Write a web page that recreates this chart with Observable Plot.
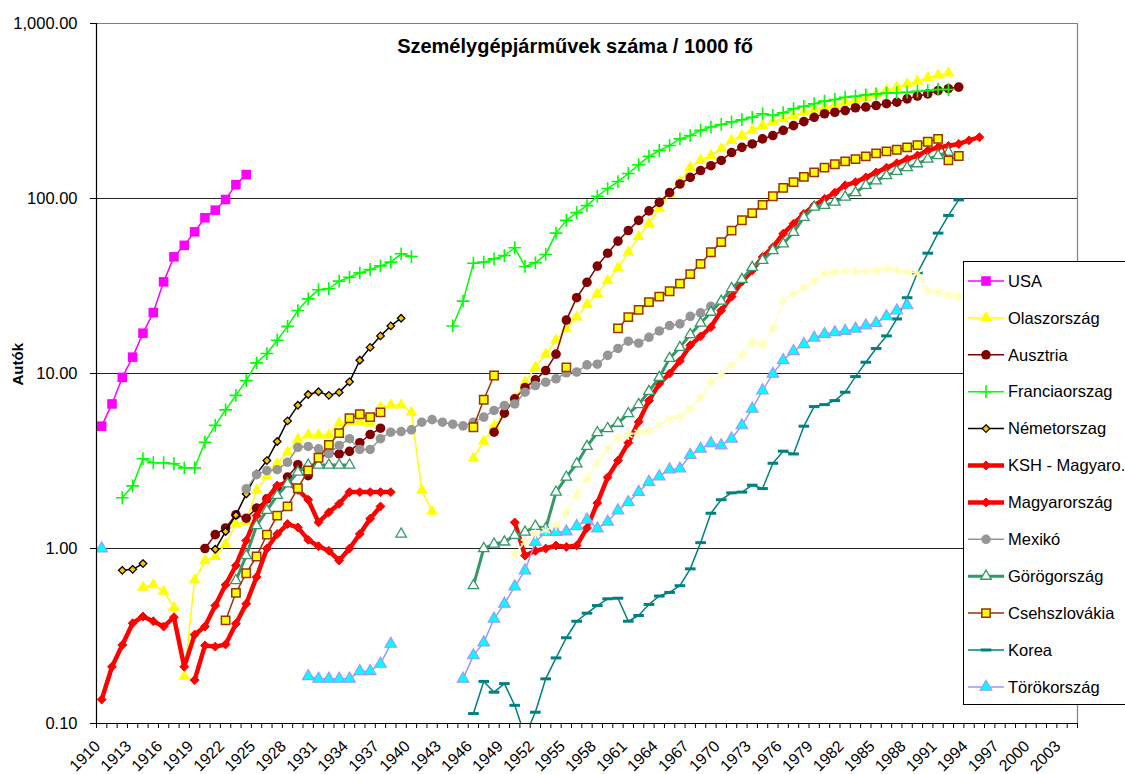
<!DOCTYPE html>
<html><head><meta charset="utf-8">
<script src="https://cdn.jsdelivr.net/npm/d3@7"></script>
<script src="https://cdn.jsdelivr.net/npm/@observablehq/plot@0.6"></script>
<style>
body{margin:0;background:#fff;}
#wrap{position:relative;width:1125px;height:774px;overflow:hidden;font-family:"Liberation Sans",Arial,sans-serif;}
#wrap svg{position:absolute;left:0;top:0;}
</style></head><body><div id="wrap"></div>
<script>
// ---------- data (values per year, starting at the given year; null = no data) ----------
const chartTitle = "Személygépjárművek száma / 1000 fő";
const yTitle = "Autók";
const yTicks = [0.1, 1, 10, 100, 1000];
const xLabelYears = ["1910","1913","1916","1919","1922","1925","1928","1931","1934","1937","1940","1943","1946","1949","1952","1955","1958","1961","1964","1967","1970","1973","1976","1979","1982","1985","1988","1991","1994","1997","2000","2003"];
const firstYear = 1910, lastYear = 2004;

const usaStart = 1910;
const usa = [5.0,6.7,9.5,12.4,17.0,22.3,33.4,46.4,54,64.5,77.6,85.8,98.7,120,137];

const italyStart = 1914;
const italy = [0.60,0.62,0.57,0.46,0.186,0.66,0.85,0.90,1.06,1.38,1.43,2.15,2.59,3.05,3.55,4.2,4.45,4.45,4.45,5.2,5.3,5.3,5.2,6.4,6.6,6.6,6.0,2.15,1.63,
  null,null,null,
  3.28,4.09,5.0,6.0,7.2,8.9,10.85,12.9,15.5,18.0,21.0,24.8,28.5,34,40,49.3,60.6,72,88,106,125,150,165,176,192,214,229,245,261,273,285,298,311,323,333,342,355,363,378,395,415,432,452,468,490,508,520];

const austriaStart = 1920;
const austria = [1.0,1.2,1.31,1.56,1.49,1.70,1.92,2.19,2.56,3.01,2.61,3.26,3.5,3.47,3.59,4.02,4.48,4.87,
  null,null,null,null,null,null,null,null,null,null,
  4.62,5.94,7.17,8.3,9.2,10.4,12.9,20.2,27.1,33.2,41.1,48.7,57.1,65.6,75,85,95,108,121,132,144.5,154,165,183,196,205,219,229,245,261,275,291,305,311,318,330,333,340,348,355,371,385,396,414,424,433];

const franceStart = 1912;
const france = [1.95,2.28,3.26,3.09,3.09,3.05,2.89,2.89,4.05,5.05,6.2,7.5,9.1,11.5,13.0,15.5,18.6,22.9,26.7,30.1,30.5,33.7,35.5,37.6,39.3,41.2,43.3,48.3,46.6,
  null,null,null,
  18.7,25.9,42.7,43.3,45.2,47.2,52.3,40.9,42.9,47.9,63.4,75,83,91,103,114,125,139,156,174,188,201,219,229,245,256,265,274,282,291,305,298,309,326,336,348,360,368,379,384,391,396,400,402,405,410,414,420,420];

const germanyStart = 1912;
const germany = [0.75,0.76,0.82,null,null,null,null,null,null,0.99,1.25,1.55,2.05,2.67,3.18,4.09,5.36,6.58,7.59,7.86,7.5,7.8,8.96,11.9,14.1,16.4,18.7,20.7];

const kshStart = 1919;
const ksh = [0.177,0.279,0.275,0.283,0.372,0.483,0.686,1.0,1.21,1.38,1.32,1.12,1.03,0.97,0.854,1.0,1.21,1.48,1.74];

const hungaryStart = 1910;
const hungary = [0.137,0.211,0.281,0.374,0.409,0.384,0.358,0.405,0.211,0.322,0.358,0.472,0.62,0.80,1.11,1.54,1.92,2.29,2.39,2.16,1.9,1.41,1.61,1.8,2.1,2.1,2.1,2.1,2.1,
  null,null,null,null,null,null,null,null,null,null,null,
  1.41,0.91,0.97,1.0,1.04,1.02,1.04,1.31,1.82,2.55,3.18,4.02,5.3,7.0,8.73,10.0,11.8,14.5,16.3,18.4,22.9,27.5,33.5,38.8,46.3,52.7,62.9,71.8,81.7,91.4,99.5,108,119,124,132,141,150,159,168,176,188,196,200,205,215,224];

const mexicoStart = 1924;
const mexico = [2.19,2.64,2.79,2.82,3.11,3.79,3.83,3.71,3.5,3.88,4.24,3.68,3.68,4.24,4.62,4.66,4.76,5.27,5.45,5.27,5.13,5.02,5.27,5.63,6.15,6.56,6.7,7.82,8.54,8.92,9.33,10.1,10.2,11.2,11.3,12.7,13.9,15.3,14.9,16.1,17.5,18.8,19.2,21.2,22.2,24.2];

const greeceStart = 1923;
const greece = [0.656,0.91,1.35,1.65,2.01,2.34,2.73,3.0,3.0,3.0,3.0,3.0,null,null,null,null,1.21,
  null,null,null,null,null,null,
  0.614,1.0,1.06,1.09,1.19,1.24,1.34,1.30,2.1,2.56,3.05,3.83,4.6,4.85,5.2,5.9,6.65,7.9,9.5,12.2,14.1,16.7,19.4,22.4,25.9,30.6,34.5,40.4,44.3,50.4,55,64.1,78.1,89.4,91.4,95.4,102,108,119,126,135,143,150,158,168,176,184];

const czechStart = 1922;
const czech = [0.388,0.558,0.722,0.90,1.2,1.54,1.74,2.21,2.79,3.3,3.91,4.56,5.55,5.85,5.63,6.0,
  null,null,null,null,null,null,null,null,
  4.93,7.08,9.74,null,null,null,null,null,null,10.85,null,null,null,null,
  18.1,21.0,23.1,25.6,27.5,29.5,32.6,37,42.3,49.3,56.3,65.6,75.1,82.5,92,103,115,124,133,141,150,157,163,168,174,181,186,190,196,202,211,219,165,175];

const koreaStart = 1946;
const korea = [0.114,0.174,0.151,0.169,0.127,0.085,0.116,0.18,0.237,0.309,0.384,0.427,0.472,0.516,0.52,0.384,0.414,0.479,0.535,0.561,0.613,0.765,1.08,1.59,1.9,2.08,2.1,2.3,2.2,3.07,3.6,3.47,5.0,6.47,6.64,7.0,7.82,9.6,11.6,13.9,16.4,20.5,27.1,37.5,48.7,63.4,80.0,98.2];

const turkeyStart = 1910;
const turkey = [1.0,null,null,null,null,null,null,null,null,null,null,null,null,null,null,null,null,null,null,null,
  0.186,0.18,0.18,0.18,0.18,0.199,0.199,0.219,0.285,
  null,null,null,null,null,null,
  0.18,0.245,0.29,0.397,0.483,0.606,0.749,1.09,1.24,1.24,1.25,1.34,1.46,1.3,1.42,1.65,1.84,2.1,2.4,2.58,2.83,2.86,3.42,3.71,3.99,3.88,4.24,5.05,6.28,8.0,9.95,11.9,13.4,14.7,16.0,16.8,17.2,17.5,18.0,18.8,19.4,21.2,22.9,24.5];

const otherStart = 1950;
const other = [0.93,1.09,1.21,1.27,1.35,1.62,2.03,2.5,3.1,3.73,4.3,4.45,4.62,4.7,5.11,5.5,5.65,6.3,7.26,9.0,9.86,11.1,12.8,15.1,14.6,18.0,26.1,28.6,31,34,37.2,38,38.3,38.3,38.3,38.8,39.7,38.8,38,37.5,29.7,29.2,28,27.4];

// ---------- helpers ----------
const rows = (start, vals) => vals.map((v, i) => ({year: start + i, value: v}));
const dashSymbol = {draw(ctx, size) { const w = Math.sqrt(size) * 0.6; ctx.moveTo(-w, 0); ctx.lineTo(w, 0); }};

const series = [
  {name:"USA", data:rows(usaStart,usa), line:"#FF00FF", lw:1.5, sym:"square", r:5.4, fill:"#FF00FF", stroke:"none", sw:0},
  {name:"Olaszország", data:rows(italyStart,italy), line:"#FFFF00", lw:1.5, sym:"triangle", r:4.4, fill:"#FFFF00", stroke:"none", sw:0},
  {name:"Ausztria", data:rows(austriaStart,austria), line:"#800000", lw:1.5, sym:"circle", r:4.8, fill:"#800000", stroke:"none", sw:0},
  {name:"Franciaorszag", data:rows(franceStart,france), line:"#00FF00", lw:1.5, sym:"plus", r:4.2, fill:"none", stroke:"#00FF00", sw:1.6},
  {name:"Németorszag", data:rows(germanyStart,germany), line:"#000000", lw:1.5, sym:"diamond2", r:3.4, fill:"#FFC000", stroke:"#000000", sw:1.3},
  {name:"KSH - Magyaro.", data:rows(kshStart,ksh), line:"#FF0000", lw:4.5, sym:"diamond2", r:4, fill:"#FF0000", stroke:"#FF0000", sw:1},
  {name:"Magyarország", data:rows(hungaryStart,hungary), line:"#FF0000", lw:4.5, sym:"diamond2", r:4, fill:"#FF0000", stroke:"#FF0000", sw:1},
  {name:"Mexikó", data:rows(mexicoStart,mexico), line:"#969696", lw:1.5, sym:"circle", r:4.8, fill:"#969696", stroke:"none", sw:0},
  {name:"Görögország", data:rows(greeceStart,greece), line:"#339966", lw:3, sym:"triangle", r:3.9, fill:"#FFFFFF", stroke:"#339966", sw:1.3},
  {name:"Csehszlovákia", data:rows(czechStart,czech), line:"#993300", lw:1.5, sym:"square", r:4.7, fill:"#FFFF00", stroke:"#993300", sw:1.5},
  {name:"Korea", data:rows(koreaStart,korea), line:"#008080", lw:1.5, sym:dashSymbol, r:5, fill:"none", stroke:"#008080", sw:3},
  {name:"Törökország", data:rows(turkeyStart,turkey), line:"#9999FF", lw:1.5, sym:"triangle", r:4.3, fill:"#00FFFF", stroke:"#9999FF", sw:1.2},
  {name:null, data:rows(otherStart,other), line:"#FFFFC0", lw:1.5, sym:"asterisk", r:4.6, fill:"none", stroke:"#FFFFB0", sw:1.6}
];

const seriesMarks = series.flatMap(s => [
  Plot.line(s.data, {x:"year", y:"value", stroke:s.line, strokeWidth:s.lw, clip:true}),
  Plot.dot(s.data, {x:"year", y:"value", symbol:s.sym, r:s.r, fill:s.fill, stroke:s.stroke, strokeWidth:s.sw, clip:true})
]);

const boundaries = d3.range(firstYear - 0.5, lastYear + 1, 1);

const chart = Plot.plot({
  width:1125, height:774,
  marginLeft:96, marginRight:48, marginTop:23, marginBottom:51,
  style:{fontFamily:'"Liberation Sans", Arial, sans-serif', background:"#fff", color:"#000"},
  x:{type:"linear", domain:[firstYear - 0.5, lastYear + 0.5], axis:null},
  y:{type:"log", domain:[0.1, 1000], axis:null},
  marks:[
    Plot.ruleY([1, 10, 100], {stroke:"#222", strokeWidth:1}),
    Plot.ruleY([1000], {stroke:"#808080", strokeWidth:1.2}),
    Plot.ruleX([lastYear + 0.5], {stroke:"#808080", strokeWidth:1.2}),
    ...seriesMarks,
    Plot.ruleX([firstYear - 0.5], {stroke:"#000", strokeWidth:1.2}),
    Plot.ruleY([0.1], {stroke:"#000", strokeWidth:1.2}),
    Plot.axisY({ticks:yTicks, tickFormat:d => d3.format(",.2f")(d), tickSize:6, tickPadding:13, fontSize:16.5, label:null, stroke:"#000"}),
    Plot.axisX({ticks:boundaries, tickFormat:() => "", tickSize:5, label:null, stroke:"#000"}),
    Plot.text(xLabelYears, {x:d => +d, text:d => d, frameAnchor:"bottom", rotate:-45, textAnchor:"end", lineAnchor:"middle", dy:20, dx:-4, fontSize:16, fill:"#000"}),
    Plot.text([chartTitle], {frameAnchor:"top", dy:23, dx:-12, lineAnchor:"middle", fontSize:20, fontWeight:"bold", fill:"#000"}),
    Plot.text([yTitle], {frameAnchor:"left", dx:-78, dy:12, rotate:-90, lineAnchor:"middle", fontSize:15, fontWeight:"bold", fill:"#000"})
  ]
});
document.getElementById("wrap").appendChild(chart);

// ---------- legend (overlaid box, like the original) ----------
const symbolTypes = {square:d3.symbolSquare, triangle:d3.symbolTriangle, circle:d3.symbolCircle, plus:d3.symbolPlus, diamond2:d3.symbolDiamond2, asterisk:d3.symbolAsterisk};
const lg = d3.select("#wrap").append("svg").attr("width",1125).attr("height",774)
  .style("font-family",'"Liberation Sans", Arial, sans-serif');
lg.append("rect").attr("x",963.5).attr("y",261.5).attr("width",200).attr("height",443)
  .attr("fill","#fff").attr("stroke","#000").attr("stroke-width",1);
series.filter(s => s.name).forEach((s, i) => {
  const y = 281 + i * 36.9;
  lg.append("line").attr("x1",968).attr("x2",1004).attr("y1",y).attr("y2",y)
    .attr("stroke",s.line).attr("stroke-width",s.lw);
  const type = typeof s.sym === "string" ? symbolTypes[s.sym] : s.sym;
  lg.append("path").attr("d", d3.symbol(type, s.r * s.r * Math.PI)())
    .attr("transform",`translate(986,${y})`)
    .attr("fill",s.fill).attr("stroke",s.stroke).attr("stroke-width",s.sw);
  lg.append("text").attr("x",1008).attr("y",y).attr("dy","0.35em")
    .attr("font-size",16.5).attr("fill","#000").text(s.name);
});
</script></body></html>
